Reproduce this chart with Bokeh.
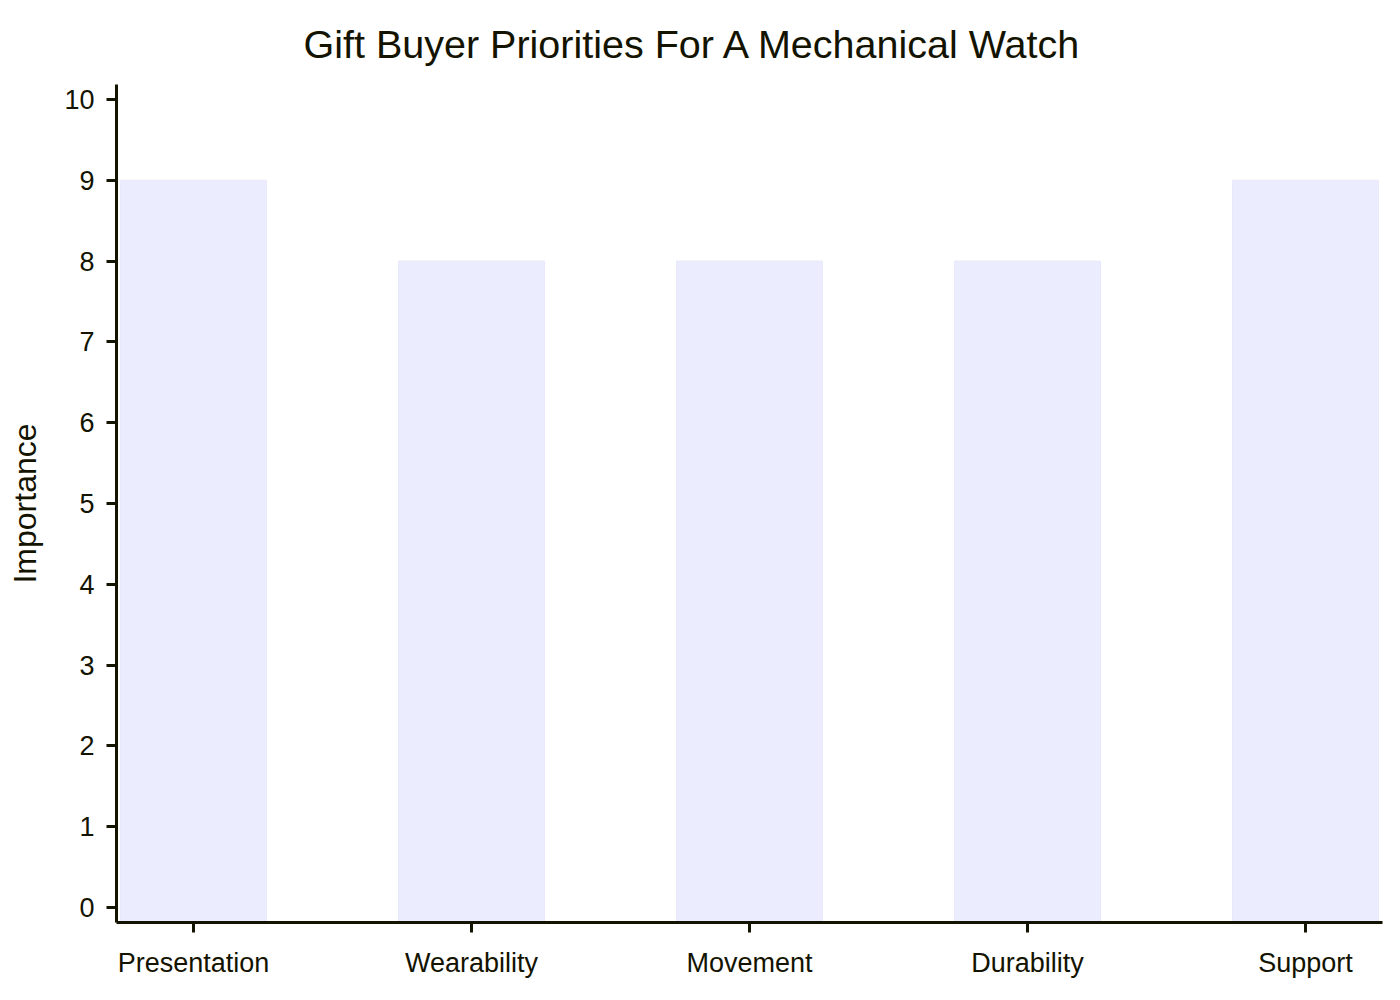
from bokeh.plotting import figure
from bokeh.models import FactorRange, Range1d, FixedTicker, ColumnDataSource
from bokeh.embed import file_html
from bokeh.resources import INLINE

categories = ["Presentation", "Wearability", "Movement", "Durability", "Support"]
importance = [9, 8, 8, 8, 9]
y_ticks = [0, 1, 2, 3, 4, 5, 6, 7, 8, 9, 10]

TEXT = "#131300"
FONT = "Liberation Sans"

y_start, y_end = -0.185, 10.185

src = ColumnDataSource(data=dict(cat=categories, val=importance,
                                 base=[y_start] * len(categories)))

p = figure(
    width=1384, height=984,
    x_range=FactorRange(factors=categories, range_padding=-0.223,
                        range_padding_units="absolute"),
    y_range=Range1d(y_start, y_end),
    output_backend="svg", toolbar_location=None,
    min_border_left=116, min_border_right=2,
    min_border_top=83, min_border_bottom=62,
)

p.vbar(x="cat", top="val", bottom="base", width=0.525, source=src,
       fill_color="#ECECFF", line_color="#E8E8FB", line_width=1)

p.title.text = "Gift Buyer Priorities For A Mechanical Watch"
p.title.align = "left"
p.title.offset = 187
p.title.text_font = FONT
p.title.text_font_size = "39.5px"
p.title.text_font_style = "normal"
p.title.text_color = TEXT
p.title.standoff = 38

p.outline_line_color = None
p.xgrid.visible = False
p.ygrid.visible = False
p.background_fill_color = "white"
p.border_fill_color = "white"

for ax in (p.xaxis[0], p.yaxis[0]):
    ax.axis_line_color = TEXT
    ax.axis_line_width = 3
    ax.major_tick_line_color = TEXT
    ax.major_tick_line_width = 3
    ax.major_tick_in = 0
    ax.major_tick_out = 10
    ax.minor_tick_line_color = None
    ax.major_label_text_font = FONT
    ax.major_label_text_font_size = "27px"
    ax.major_label_text_color = TEXT

p.yaxis[0].ticker = FixedTicker(ticks=y_ticks)
p.yaxis[0].major_label_standoff = 12
p.yaxis[0].axis_label = "Importance"
p.yaxis[0].axis_label_text_font = FONT
p.yaxis[0].axis_label_text_font_size = "32px"
p.yaxis[0].axis_label_text_font_style = "normal"
p.yaxis[0].axis_label_text_color = TEXT
p.yaxis[0].axis_label_standoff = 18

p.xaxis[0].major_label_standoff = 15

open("out.html", "w").write(file_html(p, INLINE))
